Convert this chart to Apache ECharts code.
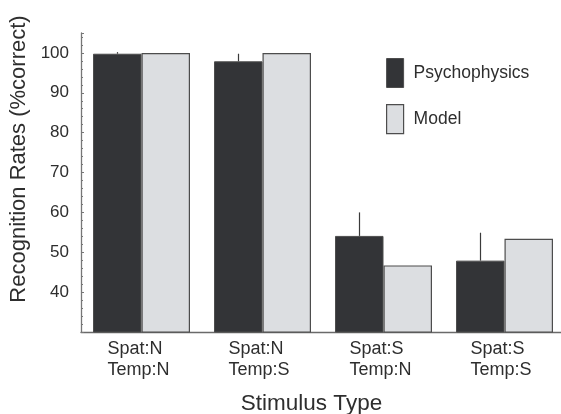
<!DOCTYPE html>
<html>
<head>
<meta charset="utf-8">
<script src="https://cdn.jsdelivr.net/npm/echarts@6/dist/echarts.min.js"></script>
<style>
  html, body { margin: 0; padding: 0; background: #fff; }
  #chart { width: 561px; height: 414px; }
</style>
</head>
<body>
<div id="chart"></div>
<script>
// Stimulus conditions (two-line category labels)
const spatLabels = ['Spat:N', 'Spat:N', 'Spat:S', 'Spat:S'];
const tempLabels = ['Temp:N', 'Temp:S', 'Temp:N', 'Temp:S'];

// Recognition rates (% correct)
const psychophysics = [99.8, 97.9, 54.1, 47.9];
const psychErrUpper = [0.4, 1.9, 5.9, 7.0];
const model = [100, 100, 46.7, 53.4];

const yTickValues = [40, 50, 60, 70, 80, 90, 100];

const categories = spatLabels.map((s, i) => s + '\n' + tempLabels[i]);

const FONT = '"Liberation Sans", Arial, Helvetica, sans-serif';
const TEXT = '#2e2e2e';
const DARK = '#333437';
const LIGHT = '#dcdee1';
const EDGE = '#4d4d4d';
const BAR_W = 48.5;

const chart = echarts.init(document.getElementById('chart'), null, { renderer: 'canvas' });

chart.setOption({
  animation: false,
  backgroundColor: '#ffffff',
  grid: { left: 81, top: 33, width: 484, height: 299, containLabel: false, outerBoundsMode: 'none' },
  legend: {
    orient: 'vertical',
    left: 381,
    top: 53,
    itemWidth: 17,
    itemHeight: 29,
    itemGap: 16,
    icon: 'rect',
    selectedMode: false,
    textStyle: { fontFamily: FONT, fontSize: 17.5, color: TEXT, padding: [0, 0, 0, 5] },
    data: [
      { name: 'Psychophysics', itemStyle: { color: DARK, borderColor: EDGE, borderWidth: 1 } },
      { name: 'Model', itemStyle: { color: LIGHT, borderColor: EDGE, borderWidth: 1.2 } }
    ]
  },
  xAxis: {
    type: 'category',
    data: categories,
    boundaryGap: true,
    name: 'Stimulus Type',
    nameLocation: 'middle',
    nameGap: 60,
    nameTextStyle: { fontFamily: FONT, fontSize: 22.5, color: TEXT, padding: [0, 23, 0, 0] },
    axisLine: { lineStyle: { color: '#6a6a6a', width: 1.3 } },
    axisTick: { show: false },
    axisLabel: {
      margin: 7,
      interval: 0,
      formatter: v => v.split('\n').map(s => '{t|' + s + '}').join('\n'),
      rich: {
        t: { width: 68, align: 'left', fontFamily: FONT, fontSize: 18, lineHeight: 21, color: TEXT }
      }
    },
    splitLine: { show: false }
  },
  yAxis: [
    {
      type: 'value',
      min: 30,
      max: 105,
      interval: 10,
      name: 'Recognition Rates (%correct)',
      nameLocation: 'middle',
      nameGap: 51,
      nameTextStyle: { fontFamily: FONT, fontSize: 22, color: TEXT, padding: [0, 0, 0, 47] },
      axisLine: { show: true, lineStyle: { color: '#777', width: 1.3 } },
      axisTick: { show: true, inside: true, length: 3, lineStyle: { color: '#777', width: 1 } },
      axisLabel: {
        margin: 12,
        fontFamily: FONT,
        fontSize: 17,
        color: TEXT,
        formatter: v => (yTickValues.indexOf(v) >= 0 ? String(v) : '')
      },
      splitLine: { show: false }
    },
    {
      // minor ticks every 2 %
      type: 'value',
      min: 30,
      max: 105,
      interval: 2,
      position: 'left',
      axisLine: { show: false },
      axisTick: { show: true, inside: true, length: 2, lineStyle: { color: '#777', width: 1 } },
      axisLabel: { show: false },
      splitLine: { show: false }
    }
  ],
  series: [
    {
      name: 'Psychophysics',
      type: 'bar',
      data: psychophysics,
      barWidth: BAR_W,
      barGap: '0%',
      itemStyle: { color: DARK, borderColor: EDGE, borderWidth: 1 },
      z: 2
    },
    {
      name: 'Model',
      type: 'bar',
      data: model,
      barWidth: BAR_W,
      barGap: '0%',
      itemStyle: { color: LIGHT, borderColor: EDGE, borderWidth: 1.2 },
      z: 2
    },
    {
      // upper error bars on the psychophysics bars
      name: 'err',
      type: 'custom',
      data: psychophysics.map((v, i) => [i, v, v + psychErrUpper[i]]),
      z: 3,
      renderItem: (params, api) => {
        const base = api.coord([api.value(0), api.value(1)]);
        const top = api.coord([api.value(0), api.value(2)]);
        const x = Math.round(base[0] - BAR_W / 2) + 0.5;
        return {
          type: 'line',
          shape: { x1: x, y1: base[1], x2: x, y2: top[1] },
          style: { stroke: '#3a3a3a', lineWidth: 1.2 }
        };
      }
    }
  ]
});
</script>
</body>
</html>
